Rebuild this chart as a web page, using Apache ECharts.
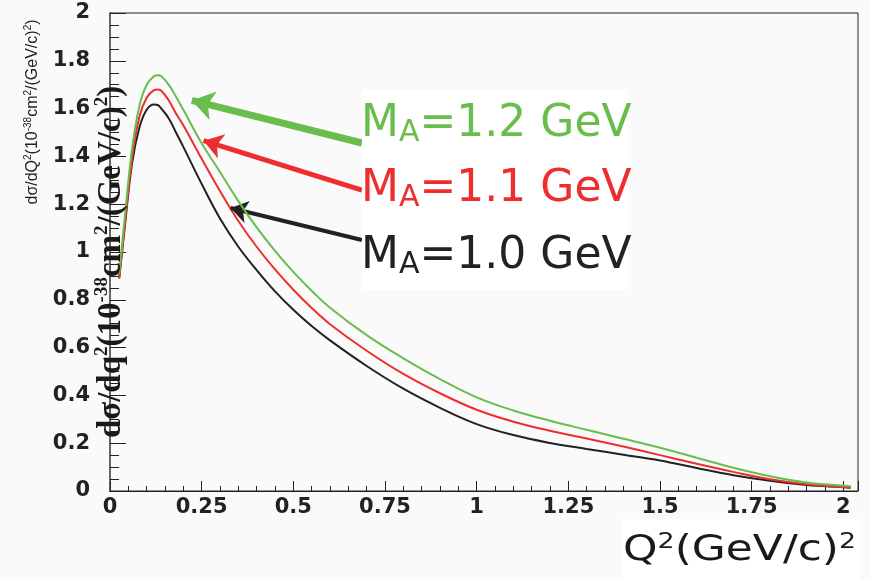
<!DOCTYPE html>
<html>
<head>
<meta charset="utf-8">
<script src="https://cdn.jsdelivr.net/npm/echarts@6/dist/echarts.min.js"></script>
<style>
  html, body { margin: 0; padding: 0; background: #fafafa; }
  #chart { width: 871px; height: 579px; }
</style>
</head>
<body>
<div id="chart"></div>
<script>
// Q^2 sampling points, (GeV/c)^2
const q2 = [0.025, 0.04, 0.06, 0.08, 0.10, 0.12, 0.13, 0.14, 0.16, 0.18, 0.20, 0.25, 0.30, 0.35,
            0.40, 0.45, 0.50, 0.55, 0.60, 0.70, 0.80, 0.90, 1.00, 1.10, 1.20, 1.30, 1.40, 1.50,
            1.60, 1.70, 1.80, 1.90, 2.00, 2.02];

// dsigma/dQ^2 in 10^-38 cm^2/(GeV/c)^2 for three axial masses
const sigmaMA10 = [0.89, 1.10, 1.37, 1.52, 1.595, 1.617, 1.615, 1.60, 1.56, 1.50, 1.44, 1.285, 1.14, 1.022,
                   0.924, 0.835, 0.758, 0.690, 0.630, 0.523, 0.428, 0.348, 0.280, 0.234, 0.201, 0.176, 0.152, 0.128,
                   0.096, 0.066, 0.043, 0.025, 0.016, 0.014];
const sigmaMA11 = [0.89, 1.11, 1.39, 1.565, 1.645, 1.677, 1.68, 1.675, 1.635, 1.58, 1.53, 1.39, 1.255, 1.13,
                   1.022, 0.927, 0.842, 0.766, 0.698, 0.587, 0.490, 0.409, 0.340, 0.290, 0.252, 0.220, 0.186, 0.150,
                   0.114, 0.080, 0.049, 0.028, 0.016, 0.014];
const sigmaMA12 = [0.91, 1.14, 1.43, 1.61, 1.70, 1.735, 1.74, 1.735, 1.70, 1.65, 1.595, 1.455, 1.335, 1.213,
                   1.103, 1.005, 0.917, 0.838, 0.767, 0.652, 0.555, 0.468, 0.392, 0.337, 0.294, 0.256, 0.219, 0.181,
                   0.139, 0.097, 0.062, 0.036, 0.022, 0.020];

const xTickLabels = ['0', '0.25', '0.5', '0.75', '1', '1.25', '1.5', '1.75', '2'];
const yTickLabels = ['0', '0.2', '0.4', '0.6', '0.8', '1', '1.2', '1.4', '1.6', '1.8', '2'];

const GREEN = '#69bd4c', RED = '#ee2e2e', BLACK = '#222222';

function points(values) {
  return q2.map((x, i) => [x, values[i]]);
}
function labelAt(list, step) {
  return function (v) {
    const k = v / step;
    const i = Math.round(k);
    return Math.abs(k - i) < 1e-6 && list[i] !== undefined ? list[i] : '';
  };
}
function arrow(color, width, size, from, to) {
  return {
    silent: true,
    symbol: ['none', 'arrow'],
    symbolSize: size,
    label: { show: false },
    emphasis: { disabled: true },
    lineStyle: { color: color, width: width, type: 'solid', opacity: 1 },
    data: [[{ coord: from }, { coord: to }]]
  };
}
function massLabel(text, color, top) {
  return {
    type: 'text', z: 101, x: 361, y: top,
    style: {
      text: text, align: 'left', verticalAlign: 'top',
      rich: {
        m: { fontFamily: 'DejaVu Sans', fontSize: 44, lineHeight: 46, fill: color },
        s: { fontFamily: 'DejaVu Sans', fontSize: 30, lineHeight: 12, verticalAlign: 'bottom', fill: color }
      }
    }
  };
}

const tickFont = { fontFamily: 'DejaVu Sans', fontWeight: 'bold', fontSize: 21, color: '#222' };

const chart = echarts.init(document.getElementById('chart'), null, { renderer: 'canvas' });
chart.setOption({
  backgroundColor: '#fafafa',
  animation: false,
  grid: {
    left: 110, top: 13, right: 13, bottom: 88,
    containLabel: false, outerBoundsMode: 'none',
    show: true, backgroundColor: '#fafafa', borderColor: '#222', borderWidth: 1
  },
  xAxis: [
    {
      type: 'value', min: 0, max: 2.04, interval: 0.25, position: 'bottom',
      axisLine: { show: true, onZero: false, lineStyle: { color: '#222', width: 1 } },
      axisTick: { show: true, inside: true, length: 10, lineStyle: { color: '#222' } },
      minorTick: { show: false },
      splitLine: { show: false },
      axisLabel: Object.assign({ margin: 6, formatter: labelAt(xTickLabels, 0.25),
                                 showMaxLabel: true, showMinLabel: true }, tickFont)
    },
    {
      type: 'value', min: 0, max: 2.04, interval: 0.05, position: 'bottom',
      axisLine: { show: false },
      axisTick: { show: true, inside: true, length: 5, lineStyle: { color: '#222' } },
      axisLabel: { show: false },
      splitLine: { show: false }
    }
  ],
  yAxis: [
    {
      type: 'value', min: 0, max: 2, interval: 0.2, position: 'left',
      axisLine: { show: true, onZero: false, lineStyle: { color: '#222', width: 1 } },
      axisTick: { show: true, inside: true, length: 16, lineStyle: { color: '#222' } },
      minorTick: { show: true, splitNumber: 4, length: 9, lineStyle: { color: '#222' } },
      splitLine: { show: false },
      axisLabel: Object.assign({ margin: 20, formatter: labelAt(yTickLabels, 0.2) }, tickFont)
    },
    {
      type: 'value', min: 0, max: 2, position: 'right',
      axisLine: { show: true, lineStyle: { color: '#666', width: 2 } },
      axisTick: { show: false }, axisLabel: { show: false }, splitLine: { show: false }
    }
  ],
  series: [
    {
      name: 'M_A=1.0 GeV', type: 'line', data: points(sigmaMA10),
      showSymbol: false, smooth: 0.4,
      lineStyle: { color: BLACK, width: 2 }, z: 3,
      markLine: arrow(BLACK, 4, 17, [0.687, 1.050], [0.329, 1.184])
    },
    {
      name: 'M_A=1.1 GeV', type: 'line', data: points(sigmaMA11),
      showSymbol: false, smooth: 0.4,
      lineStyle: { color: RED, width: 2 }, z: 4,
      markLine: arrow(RED, 5, 19, [0.687, 1.259], [0.255, 1.466])
    },
    {
      name: 'M_A=1.2 GeV', type: 'line', data: points(sigmaMA12),
      showSymbol: false, smooth: 0.4,
      lineStyle: { color: GREEN, width: 2 }, z: 5,
      markLine: arrow(GREEN, 7, 22, [0.687, 1.456], [0.223, 1.634])
    }
  ],
  graphic: [
    // white panel behind the mass labels
    { type: 'rect', z: 100, shape: { x: 362, y: 90, width: 266, height: 200 }, style: { fill: '#ffffff' } },
    massLabel('{m|M}{s|A}{m|=1.2 GeV}', GREEN, 102),
    massLabel('{m|M}{s|A}{m|=1.1 GeV}', RED, 167),
    massLabel('{m|M}{s|A}{m|=1.0 GeV}', BLACK, 234),
    // x-axis title on its own white panel
    { type: 'rect', z: 100, shape: { x: 622, y: 519, width: 238, height: 60 }, style: { fill: '#ffffff' } },
    {
      type: 'text', z: 101, x: 623, y: 531, scaleX: 1.22,
      style: {
        text: '{n|Q}{s|2}{n|(GeV/c)}{s|2}', align: 'left', verticalAlign: 'top',
        rich: {
          n: { fontFamily: 'DejaVu Sans', fontSize: 36, lineHeight: 40, fill: '#1a1a1a' },
          s: { fontFamily: 'DejaVu Sans', fontSize: 22, lineHeight: 22, verticalAlign: 'top', fill: '#1a1a1a' }
        }
      }
    },
    // small y-axis title
    {
      type: 'text', z: 101, x: 33, y: 112, rotation: Math.PI / 2,
      style: {
        text: '{n|dσ/dQ}{s|2}{n|(10}{s|-38}{n|cm}{s|2}{n|/(GeV/c)}{s|2}{n|)}',
        align: 'center', verticalAlign: 'middle',
        rich: {
          n: { fontFamily: 'Liberation Sans', fontSize: 16, lineHeight: 20, fill: '#222' },
          s: { fontFamily: 'Liberation Sans', fontSize: 10, lineHeight: 12, verticalAlign: 'top', fill: '#222' }
        }
      }
    },
    // large y-axis title
    {
      type: 'text', z: 102, x: 111, y: 262, rotation: Math.PI / 2,
      style: {
        text: '{n|dσ/dq}{s|2}{n|(10}{s|-38}{n|cm}{s|2}{n|/(GeV/c)}{s|2}{n|)}',
        align: 'center', verticalAlign: 'middle',
        rich: {
          n: { fontFamily: 'Liberation Serif', fontWeight: 'bold', fontSize: 33, lineHeight: 36, fill: '#1a1a1a' },
          s: { fontFamily: 'Liberation Serif', fontWeight: 'bold', fontSize: 19, lineHeight: 21, verticalAlign: 'top', fill: '#1a1a1a' }
        }
      }
    }
  ]
});
</script>
</body>
</html>
